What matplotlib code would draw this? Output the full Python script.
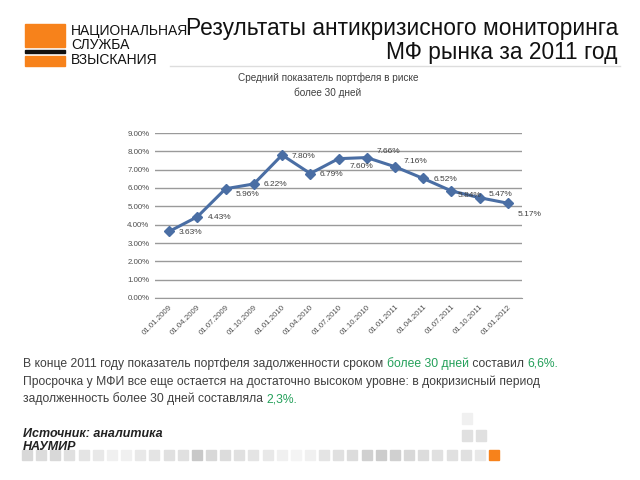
import matplotlib
matplotlib.use("Agg")
import matplotlib.pyplot as plt
from matplotlib.patches import Rectangle
from matplotlib.lines import Line2D
from matplotlib.ticker import FuncFormatter, MultipleLocator

# ---- data ----
dates = ["01.01.2009", "01.04.2009", "01.07.2009", "01.10.2009", "01.01.2010",
         "01.04.2010", "01.07.2010", "01.10.2010", "01.01.2011", "01.04.2011",
         "01.07.2011", "01.10.2011", "01.01.2012"]
values = [3.63, 4.43, 5.96, 6.22, 7.80, 6.79, 7.60, 7.66, 7.16, 6.52, 5.84, 5.47, 5.17]
labels = ["3.63%", "4.43%", "5.96%", "6.22%", "7.80%", "6.79%", "7.60%", "7.66%",
          "7.16%", "6.52%", "5.84%", "5.47%", "5.17%"]
# label offsets (pixels)
label_offsets = [(10, -1), (10, -1), (10, -6), (10, -1), (10, -1), (9, -1), (11, -8),
                 (10, 6), (9, 5), (10, -1), (6, -5), (9, 3), (10, -11)]

W, H = 640, 480
fig = plt.figure(figsize=(6.4, 4.8), dpi=100)
fig.patch.set_facecolor("white")
FONT = "Liberation Sans"

def fx(x):
    return x / W

def fy(y):
    return 1 - y / H

# ---- logo ----
fig.patches.append(Rectangle((fx(25), fy(47)), fx(40), 23 / H, color="#f7821b",
                             transform=fig.transFigure, figure=fig))
fig.patches.append(Rectangle((fx(25), fy(53)), fx(40), 3 / H, color="#111111",
                             transform=fig.transFigure, figure=fig))
fig.patches.append(Rectangle((fx(25), fy(66)), fx(40), 10 / H, color="#f7821b",
                             transform=fig.transFigure, figure=fig))
for t, y in [("НАЦИОНАЛЬНАЯ", 31), ("СЛУЖБА", 45), ("ВЗЫСКАНИЯ", 60)]:
    fig.text(fx(71), fy(y), t, fontsize=10, family=FONT, color="#111111",
             ha="left", va="center")

# ---- main title ----
fig.text(fx(618), fy(28), "Результаты антикризисного мониторинга", fontsize=16.4,
         family=FONT, color="#111111", ha="right", va="center")
fig.text(fx(618), fy(53), "МФ рынка за 2011 год", fontsize=16.4,
         family=FONT, color="#111111", ha="right", va="center")
fig.lines.append(Line2D([fx(170), fx(620)], [fy(66), fy(66)], color="#dddddd",
                        lw=1, transform=fig.transFigure, figure=fig))

# ---- chart title ----
fig.text(fx(328), fy(78), "Средний показатель портфеля в риске", fontsize=7.2,
         family=FONT, color="#404040", ha="center", va="center")
fig.text(fx(328), fy(93), "более 30 дней", fontsize=7.2,
         family=FONT, color="#404040", ha="center", va="center")

# ---- chart ----
ax = fig.add_axes([fx(155), fy(298), (522 - 155) / W, (298 - 133) / H])
x = list(range(len(values)))
ax.plot(x, values, color="#4a6ea4", lw=2.2, marker="D", ms=5, zorder=3)
ax.set_xlim(-0.5, len(values) - 0.5)
ax.set_ylim(0, 9)
ax.yaxis.set_major_locator(MultipleLocator(1))
ax.yaxis.set_major_formatter(FuncFormatter(lambda v, p: f"{v:.2f}%"))
ax.grid(axis="y", color="#9a9a9a", lw=1)
ax.set_axisbelow(True)
for s in ["top", "right", "left"]:
    ax.spines[s].set_visible(False)
ax.spines["bottom"].set_color("#9a9a9a")
ax.set_xticks(x)
ax.set_xticklabels(dates, rotation=45, ha="right", rotation_mode="anchor")
ax.tick_params(axis="both", length=0, labelsize=5.7, labelcolor="#505050")
ax.tick_params(axis="y", pad=4)
ax.tick_params(axis="x", pad=4)
for lbl in ax.get_xticklabels() + ax.get_yticklabels():
    lbl.set_family(FONT)
for xi, v, lab, (dx, dy) in zip(x, values, labels, label_offsets):
    ax.annotate(lab, (xi, v), xytext=(dx, dy), textcoords="offset pixels",
                ha="left", va="center", fontsize=6, family=FONT, color="#404040")

# ---- body text ----
renderer = fig.canvas.get_renderer()
DARK = "#404040"
GREEN = "#24a05a"

def multi(parts, x0, y0, size=8.7):
    xpos = fx(x0)
    for txt, col in parts:
        t = fig.text(xpos, fy(y0), txt, fontsize=size, family=FONT, color=col,
                     ha="left", va="center")
        bb = t.get_window_extent(renderer=renderer)
        xpos += bb.width / W

multi([("В конце 2011 году показатель портфеля задолженности сроком ", DARK),
       ("более 30 дней", GREEN), (" составил ", DARK), ("6,6%.", GREEN)], 23, 364)
multi([("Просрочка у МФИ все еще остается на достаточно высоком уровне: в докризисный период", DARK)], 23, 382)
multi([("задолженность более 30 дней составляла ", DARK), ("2,3%.", GREEN)], 23, 399)

fig.text(fx(23), fy(434), "Источник: аналитика", fontsize=9, family=FONT,
         style="italic", weight="bold", color="#222222", ha="left", va="center")
fig.text(fx(23), fy(447), "НАУМИР", fontsize=9, family=FONT,
         style="italic", weight="bold", color="#222222", ha="left", va="center")

# ---- decorative squares ----
greys = ["#d8d8d8", "#dcdcdc", "#d8d8d8", "#e0e0e0", "#e4e4e4", "#e8e8e8", "#f0f0f0",
         "#f0f0f0", "#e8e8e8", "#e4e4e4", "#e0e0e0", "#e0e0e0", "#c8c8c8", "#d8d8d8",
         "#dcdcdc", "#e0e0e0", "#e4e4e4", "#e8e8e8", "#f0f0f0", "#f4f4f4", "#f0f0f0",
         "#e4e4e4", "#e0e0e0", "#dcdcdc", "#d0d0d0", "#cccccc", "#d0d0d0", "#d8d8d8",
         "#dcdcdc", "#e0e0e0", "#e0e0e0", "#e0e0e0", "#e8e8e8", "#f7821b"]
for i, c in enumerate(greys):
    x0 = 22 + i * 14.15
    fig.patches.append(Rectangle((fx(x0), fy(460)), 10 / W, 10 / H, color=c,
                                 transform=fig.transFigure, figure=fig, zorder=0))
for (x0, y0, c) in [(462, 441, "#e0e0e0"), (476, 441, "#e0e0e0"), (462, 424, "#f0f0f0")]:
    fig.patches.append(Rectangle((fx(x0), fy(y0)), 10 / W, 11 / H, color=c,
                                 transform=fig.transFigure, figure=fig, zorder=0))

fig.savefig("out.png", dpi=100)
